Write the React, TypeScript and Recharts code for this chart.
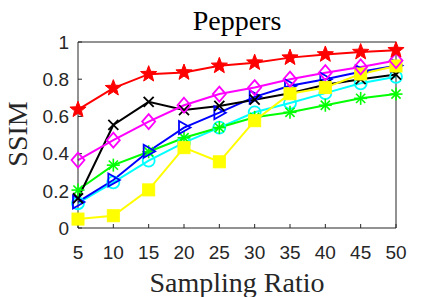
import { CartesianGrid, Line, LineChart, XAxis, YAxis } from "recharts";

const ratios = [5, 10, 15, 20, 25, 30, 35, 40, 45, 50];
const yTicks = [0, 0.2, 0.4, 0.6, 0.8, 1];

const redStar = [0.636, 0.752, 0.827, 0.836, 0.872, 0.889, 0.916, 0.933, 0.946, 0.956];
const magentaDiamond = [0.365, 0.472, 0.572, 0.66, 0.72, 0.755, 0.8, 0.835, 0.866, 0.9];
const blackX = [0.16, 0.554, 0.678, 0.634, 0.656, 0.69, 0.725, 0.77, 0.8, 0.825];
const blueTriangle = [0.14, 0.258, 0.413, 0.54, 0.62, 0.705, 0.765, 0.8, 0.84, 0.873];
const cyanCircle = [0.133, 0.245, 0.362, 0.459, 0.54, 0.622, 0.672, 0.725, 0.778, 0.813];
const greenAsterisk = [0.204, 0.338, 0.41, 0.485, 0.54, 0.595, 0.622, 0.66, 0.697, 0.72];
const yellowSquare = [0.048, 0.066, 0.205, 0.432, 0.356, 0.577, 0.722, 0.755, 0.828, 0.871];

const data = ratios.map((r, i) => ({
  r,
  red: redStar[i],
  magenta: magentaDiamond[i],
  black: blackX[i],
  blue: blueTriangle[i],
  cyan: cyanCircle[i],
  green: greenAsterisk[i],
  yellow: yellowSquare[i],
}));

type Shape = "star" | "diamond" | "x" | "triangle" | "circle" | "asterisk" | "square";

function starPoints(cx: number, cy: number, R: number) {
  const r = R * 0.42;
  const pts: string[] = [];
  for (let k = 0; k < 10; k++) {
    const rad = k % 2 === 0 ? R : r;
    const a = -Math.PI / 2 + (k * Math.PI) / 5;
    pts.push(`${cx + rad * Math.cos(a)},${cy + rad * Math.sin(a)}`);
  }
  return pts.join(" ");
}

function makeDot(shape: Shape, color: string) {
  return (props: any) => {
    const { cx, cy, index } = props;
    const key = `${shape}-${index}`;
    if (cx == null || cy == null) return <g key={key} />;
    switch (shape) {
      case "star":
        return <polygon key={key} points={starPoints(cx, cy, 8.5)} fill={color} stroke={color} strokeWidth={1} />;
      case "diamond":
        return (
          <polygon
            key={key}
            points={`${cx},${cy - 7.5} ${cx + 6.5},${cy} ${cx},${cy + 7.5} ${cx - 6.5},${cy}`}
            fill="none"
            stroke={color}
            strokeWidth={1.8}
          />
        );
      case "x":
        return (
          <g key={key} stroke={color} strokeWidth={1.8}>
            <line x1={cx - 5} y1={cy - 5} x2={cx + 5} y2={cy + 5} />
            <line x1={cx - 5} y1={cy + 5} x2={cx + 5} y2={cy - 5} />
          </g>
        );
      case "triangle":
        return (
          <polygon
            key={key}
            points={`${cx + 6.5},${cy} ${cx - 5},${cy - 6.5} ${cx - 5},${cy + 6.5}`}
            fill="none"
            stroke={color}
            strokeWidth={1.8}
          />
        );
      case "circle":
        return <circle key={key} cx={cx} cy={cy} r={6} fill="none" stroke={color} strokeWidth={1.8} />;
      case "asterisk":
        return (
          <g key={key} stroke={color} strokeWidth={1.6}>
            <line x1={cx} y1={cy - 6.5} x2={cx} y2={cy + 6.5} />
            <line x1={cx - 6.5} y1={cy} x2={cx + 6.5} y2={cy} />
            <line x1={cx - 4.6} y1={cy - 4.6} x2={cx + 4.6} y2={cy + 4.6} />
            <line x1={cx - 4.6} y1={cy + 4.6} x2={cx + 4.6} y2={cy - 4.6} />
          </g>
        );
      case "square":
        return <rect key={key} x={cx - 6} y={cy - 6} width={12} height={12} fill={color} stroke={color} />;
    }
  };
}

const series: { key: string; color: string; shape: Shape }[] = [
  { key: "cyan", color: "#00FFFF", shape: "circle" },
  { key: "green", color: "#00FF00", shape: "asterisk" },
  { key: "blue", color: "#0000FF", shape: "triangle" },
  { key: "black", color: "#000000", shape: "x" },
  { key: "yellow", color: "#FFFF00", shape: "square" },
  { key: "magenta", color: "#FF00FF", shape: "diamond" },
  { key: "red", color: "#FF0000", shape: "star" },
];

const axisColor = "#262626";
const tickFont = { fill: axisColor, fontSize: 19, fontFamily: "Liberation Sans, Arial, sans-serif" };
const serif = "Liberation Serif, Times New Roman, serif";

export default function App() {
  return (
    <div style={{ position: "absolute", left: 0, top: 0, width: 438, height: 297, background: "#fff" }}>
      <LineChart width={438} height={297} data={data} margin={{ top: 32, right: 32, bottom: 39, left: 38 }}>
        <CartesianGrid stroke="none" />
        <XAxis
          dataKey="r"
          type="number"
          domain={[5, 50]}
          ticks={ratios}
          interval={0}
          height={30}
          stroke={axisColor}
          tickSize={-4}
          tickMargin={22}
          tick={tickFont}
        />
        <XAxis
          xAxisId="top"
          orientation="top"
          dataKey="r"
          type="number"
          domain={[5, 50]}
          ticks={ratios}
          height={10}
          stroke={axisColor}
          tickSize={-4}
          tick={false}
        />
        <YAxis
          type="number"
          domain={[0, 1]}
          ticks={yTicks}
          interval={0}
          width={40}
          stroke={axisColor}
          tickSize={-4}
          tickMargin={13}
          tick={tickFont}
          tickFormatter={(v: number) => `${v}`}
        />
        <YAxis
          yAxisId="right"
          orientation="right"
          type="number"
          domain={[0, 1]}
          ticks={yTicks}
          width={10}
          stroke={axisColor}
          tickSize={-4}
          tick={false}
        />
        {series.map((s) => (
          <Line
            key={s.key}
            dataKey={s.key}
            stroke={s.color}
            strokeWidth={2}
            dot={makeDot(s.shape, s.color)}
            activeDot={false}
            isAnimationActive={false}
          />
        ))}
      </LineChart>
      <svg width={438} height={297} style={{ position: "absolute", left: 0, top: 0, pointerEvents: "none" }}>
        <text x={237} y={30} textAnchor="middle" fontFamily={serif} fontSize={28} fill="#000">
          Peppers
        </text>
        <text x={237} y={292} textAnchor="middle" fontFamily={serif} fontSize={28} fill={axisColor}>
          Sampling Ratio
        </text>
        <text
          x={27}
          y={134}
          textAnchor="middle"
          fontFamily={serif}
          fontSize={28}
          fill={axisColor}
          transform="rotate(-90 27 134)"
        >
          SSIM
        </text>
      </svg>
    </div>
  );
}
